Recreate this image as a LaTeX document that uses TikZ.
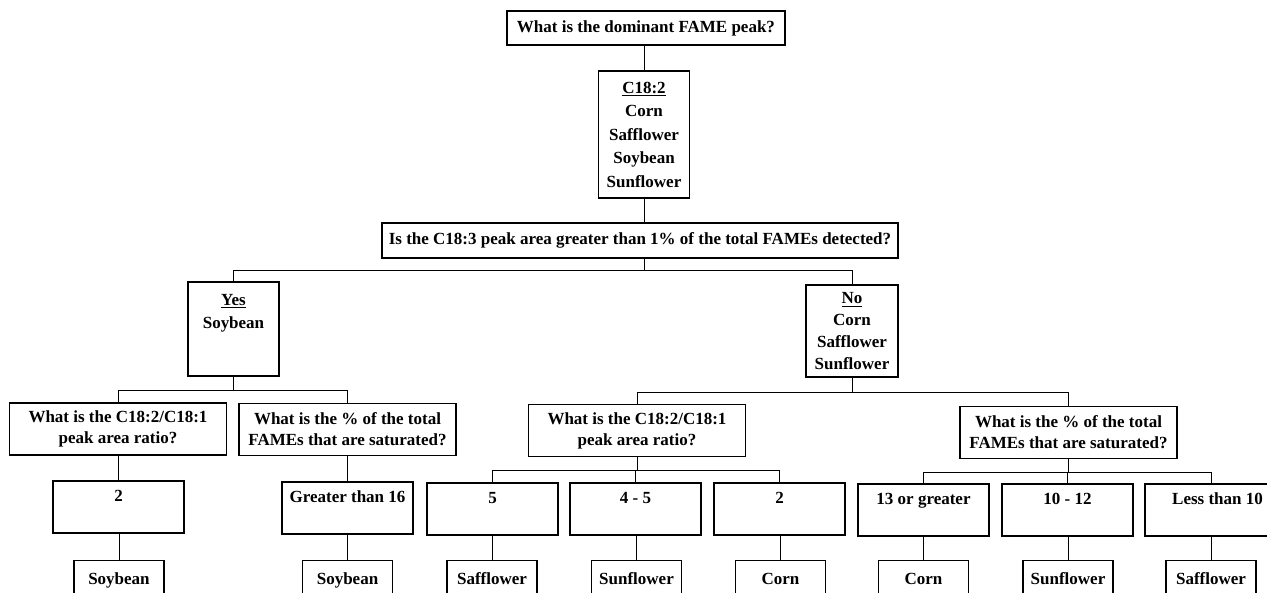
\documentclass[tikz,border=0pt]{standalone}
\usepackage{fontspec}
\setmainfont{Liberation Serif}

\begin{document}
\begin{tikzpicture}[
    x=0.6pt, y=-0.6pt,
    every node/.style={font=\fontsize{10.2}{12.6}\selectfont\bfseries},
    box/.style={rectangle, draw, line width=0.7pt, align=center, inner sep=2pt},
    question/.style={box, minimum width=130.2pt, minimum height=31.2pt},
    valuebox/.style={box, minimum width=78.6pt, inner ysep=0pt, text height=12.3pt, text depth=18.9pt},
    oilbox/.style={box, minimum width=54pt, inner ysep=0pt, text height=14.1pt, text depth=14pt, anchor=north},
    link/.style={line width=0.5pt}
]
\useasboundingbox (0,0) rectangle (1267,592);

% Root question
\node[box, minimum width=166.8pt, minimum height=20.4pt] (dominant) at (646,28) {What is the dominant FAME peak?};
\node[box, minimum width=54.6pt, minimum height=76.2pt, font=\fontsize{10.2}{14.1}\selectfont\bfseries] (c182) at (644,134.5) {\underline{C18:2}\\Corn\\Safflower\\Soybean\\Sunflower};
\node[box, minimum width=309.6pt, minimum height=21pt] (c183) at (640,240.5) {Is the C18:3 peak area greater than 1\% of the total FAMEs detected?};

\draw[link] (c182.north) -- (c182.north |- dominant.south);
\draw[link] (c182.south) -- (c182.south |- c183.north);

% Yes / No
\node[box, minimum width=54.6pt, minimum height=56.4pt, font=\fontsize{10.2}{13.8}\selectfont\bfseries] (yes) at (233.5,329) {\underline{Yes}\\Soybean\\[7.5pt]~};
\node[box, minimum width=55.2pt, minimum height=55.2pt, font=\fontsize{10.2}{13.2}\selectfont\bfseries] (no) at (852,331) {\underline{No}\\Corn\\Safflower\\Sunflower};

\draw[link] (c182.south |- c183.south) -- ++(0,12) -| (yes.north);
\draw[link] (c182.south |- c183.south) -- ++(0,12) -| (no.north);

% ============ YES BRANCH ============
\node[question] (ratioL) at (118,429) {What is the C18:2/C18:1\\peak area ratio?};
\node[question] (satL) at (347.5,429.5) {What is the \% of the total\\FAMEs that are saturated?};

\draw[link] (yes.south) -- ++(0,14) -| (ratioL.north);
\draw[link] (yes.south) -- ++(0,14) -| (satL.north);

\node[valuebox] (twoL) at (118.5,507) {2};
\node[valuebox] (gtsixteen) at (347.5,508) {Greater than 16};

\draw[link] (twoL.north) -- (twoL.north |- ratioL.south);
\draw[link] (gtsixteen.north) -- (gtsixteen.north |- satL.south);

\node[oilbox] (soyA) at (119,560) {Soybean};
\node[oilbox] (soyB) at (347.5,560) {Soybean};

\draw[link] (soyA.north) -- (soyA.north |- twoL.south);
\draw[link] (soyB.north) -- (soyB.north |- gtsixteen.south);

% ============ NO BRANCH ============
\node[question] (ratioR) at (637,430.5) {What is the C18:2/C18:1\\peak area ratio?};
\node[question] (satR) at (1068.5,432.5) {What is the \% of the total\\FAMEs that are saturated?};

\draw[link] (no.south) -- ++(0,15) -| (ratioR.north);
\draw[link] (no.south) -- ++(0,15) -| (satR.north);

% ratio values
\node[valuebox] (five) at (492.5,509) {5};
\node[valuebox] (fourfive) at (635.5,509) {4 - 5};
\node[valuebox] (twoR) at (779.5,509) {2};

\draw[link] (ratioR.south) -- ++(0,13) -| (five.north);
\draw[link] (ratioR.south) -- ++(0,13) -| (fourfive.north);
\draw[link] (ratioR.south) -- ++(0,13) -| (twoR.north);

% saturated values
\node[valuebox] (thirteen) at (923.5,510) {13 or greater};
\node[valuebox] (tentwelve) at (1067.5,510) {10 - 12};
\node[valuebox, minimum width=87pt] (lessten) at (1217.5,510) {Less than 10};

% oils at the bottom
\node[oilbox] (saffA) at (492,560) {Safflower};
\node[oilbox] (sunA) at (636.5,560) {Sunflower};
\node[oilbox] (cornA) at (780.5,560) {Corn};
\node[oilbox] (cornB) at (923.5,560) {Corn};
\node[oilbox] (sunB) at (1068,560) {Sunflower};
\node[oilbox] (saffB) at (1211,560) {Safflower};

\draw[link] (satR.south) -- ++(0,13) -| (thirteen.north);
\draw[link] (satR.south) -- ++(0,13) -| (tentwelve.north);
\draw[link] (satR.south) -- ++(0,13) -| (saffB.north |- lessten.north);

\draw[link] (saffA.north) -- (saffA.north |- five.south);
\draw[link] (sunA.north) -- (sunA.north |- fourfive.south);
\draw[link] (cornA.north) -- (cornA.north |- twoR.south);
\draw[link] (cornB.north) -- (cornB.north |- thirteen.south);
\draw[link] (sunB.north) -- (sunB.north |- tentwelve.south);
\draw[link] (saffB.north) -- (saffB.north |- lessten.south);

\end{tikzpicture}
\end{document}
